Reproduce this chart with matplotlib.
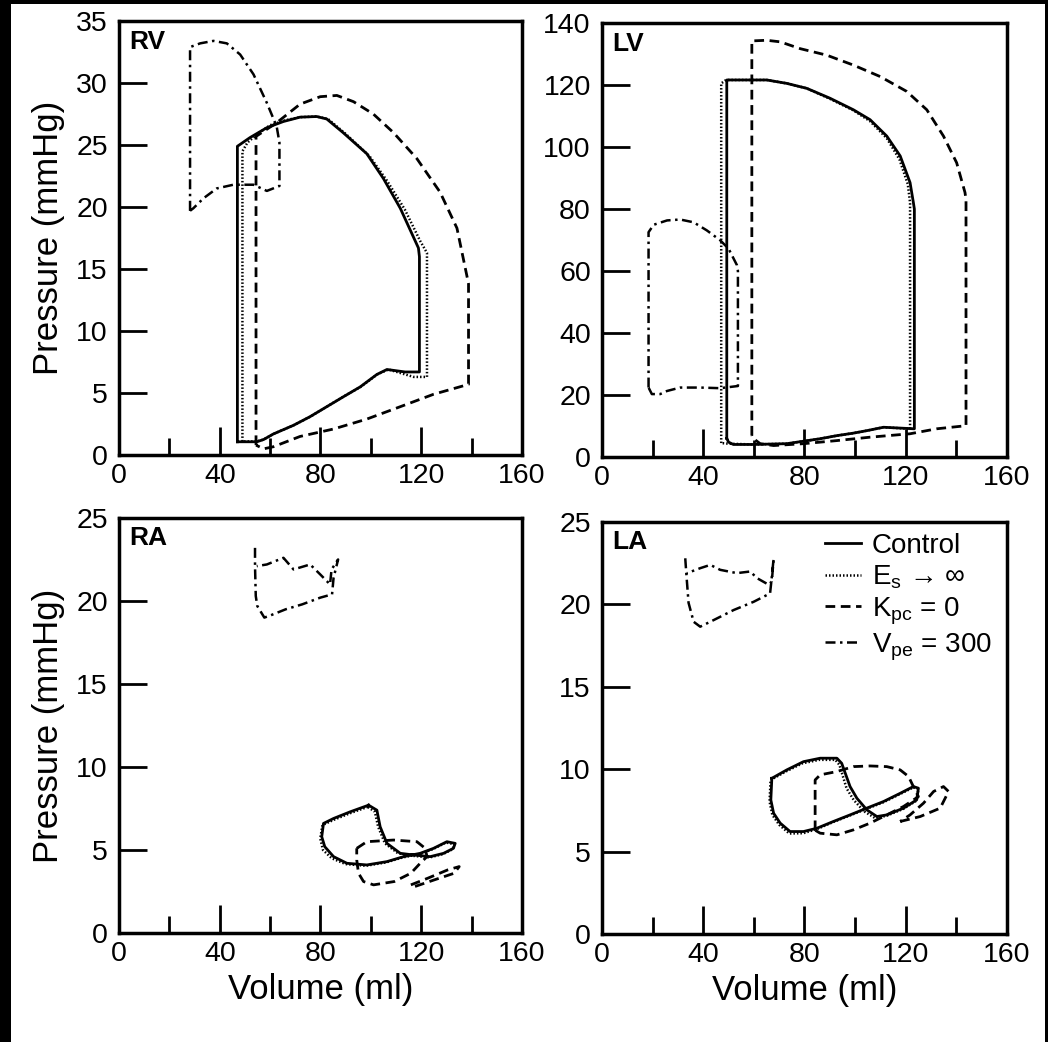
import numpy as np
import matplotlib.pyplot as plt
from matplotlib.lines import Line2D
from matplotlib.patches import Rectangle

plt.rcParams['font.family'] = ['Liberation Sans', 'DejaVu Sans']
plt.rcParams['mathtext.fontset'] = 'custom'
plt.rcParams['mathtext.rm'] = 'Liberation Sans'

# ---- RV (volume ml, pressure mmHg) ----
rv_ctrl_v = [47, 47, 52, 58.7, 65.3, 71.9, 78.5, 82.5, 89, 98.4, 105, 111.7, 118.9, 119.3, 119.3,
             113.6, 106.4, 102.4, 95.8, 89.1, 82.5, 75.9, 69.3, 61.3, 57.4, 54.7, 47]
rv_ctrl_p = [1.07, 24.9, 25.6, 26.4, 26.9, 27.25, 27.3, 27.1, 26.0, 24.3, 22.3, 19.9, 16.7, 16.0, 6.7,
             6.7, 6.9, 6.5, 5.5, 4.7, 3.9, 3.1, 2.4, 1.7, 1.25, 1.07, 1.07]
rv_es_v = [49, 49, 51, 55, 60, 66, 72, 78.5, 83, 90, 99.5, 106.5, 113.5, 119.5, 122.3, 122.3,
           117, 112, 107, 102.5, 96, 89, 82.5, 76, 69.3, 61.3, 57.4, 54.7, 49]
rv_es_p = [1.1, 24.5, 25.2, 25.9, 26.6, 27.0, 27.25, 27.3, 27.1, 25.9, 24.1, 22.1, 19.8, 17.3, 16.3, 6.3,
           6.3, 6.6, 6.9, 6.5, 5.5, 4.7, 3.9, 3.1, 2.4, 1.7, 1.25, 1.1, 1.1]
rv_kpc_v = [54.4, 54.4, 57.4, 62.6, 71.9, 79.9, 86.5, 93.1, 101, 109, 118.3, 127.5, 134.2, 138.1, 138.8, 138.8,
            124.9, 111.7, 98.4, 85.2, 71.9, 61.3, 57.4, 54.4]
rv_kpc_p = [0.8, 25.7, 26.1, 26.8, 28.3, 28.9, 29.0, 28.5, 27.5, 26.0, 23.9, 21.2, 18.3, 14.5, 13.8, 5.7,
            4.9, 3.9, 2.9, 2.1, 1.5, 0.67, 0.5, 0.8]
rv_vpe_v = [28.2, 28.2, 32.2, 37.5, 42.8, 48.1, 53.4, 58.7, 62.6, 63.7, 63.7,
            58.7, 53.4, 45.4, 38.8, 33.5, 29.5, 28.2]
rv_vpe_p = [19.7, 32.9, 33.2, 33.4, 33.2, 32.3, 30.7, 28.4, 26.5, 25.2, 21.7,
            21.3, 21.8, 21.8, 21.5, 20.7, 19.9, 19.7]

# ---- LV ----
lv_ctrl_v = [49.3, 49.3, 65.1, 73, 80.9, 90.1, 99.3, 105.9, 112.5, 117.8, 121.7, 123, 123.4, 123.4,
             111.2, 104.6, 99.3, 92.8, 86.2, 79.6, 73, 59.9, 51.9, 50, 49.3]
lv_ctrl_p = [6.0, 121.6, 121.6, 120.5, 118.9, 115.7, 112, 108.8, 103.5, 97.1, 88.5, 82.1, 80, 9.1,
             9.6, 8.5, 7.7, 6.9, 5.9, 5.1, 4.3, 4.05, 4.05, 4.8, 6.0]
lv_es_v = [47.1, 47.1, 49, 65.1, 73, 80.9, 90.1, 99.3, 105.9, 112.5, 117.5, 120.8, 121.7, 121.7,
           111.2, 104.6, 99.3, 92.8, 86.2, 79.6, 73, 59.9, 50, 47.1]
lv_es_p = [4.5, 120.5, 121.6, 121.6, 120.5, 118.9, 115.5, 111.8, 108.3, 102.8, 96.0, 88.0, 82.0, 9.1,
           9.6, 8.5, 7.7, 6.9, 5.9, 5.1, 4.3, 4.05, 4.3, 4.5]
lv_kpc_v = [59.2, 59.2, 65.1, 70.4, 78.3, 88.8, 99.3, 109.9, 120.4, 128.3, 134.9, 140.1, 143.4, 143.8, 143.8,
            132.2, 121.7, 105.9, 92.8, 79.6, 67.8, 62.5, 59.9, 59.2]
lv_kpc_p = [6.9, 134.2, 134.4, 133.9, 131.7, 129.6, 126.4, 122.7, 117.9, 112, 103.5, 94.9, 85.3, 83, 10.1,
            9.1, 7.5, 6.4, 5.3, 4.3, 3.7, 4.3, 5.9, 6.9]
lv_vpe_v = [18.4, 18.4, 20.4, 25.7, 30.9, 36.2, 41.4, 46.7, 50, 53.3, 53.7, 53.7,
            46.7, 38.8, 30.9, 25.7, 23, 19.7, 18.4]
lv_vpe_p = [22.4, 72.5, 74.9, 76.3, 76.6, 75.7, 73.1, 69.9, 67.2, 61.9, 60, 22.9,
            22.2, 22.4, 22.4, 21.3, 20.3, 20.3, 22.4]

# ---- RA ----
ra_ctrl_v = [99.1, 91.8, 85.2, 81.2, 80.5, 81.7, 85.2, 90.5, 98.4, 106.4, 113, 119.6, 124.9, 130.2, 133.5,
             132.8, 128.9, 123.6, 117, 111.7, 106.4, 103.7, 102.4, 99.1]
ra_ctrl_p = [7.7, 7.3, 6.9, 6.6, 5.8, 5.2, 4.6, 4.2, 4.1, 4.3, 4.6, 4.8, 5.1, 5.5, 5.4,
             5.1, 4.8, 4.6, 4.7, 4.8, 5.4, 6.4, 7.4, 7.7]
ra_es_v = [98.8, 91.5, 85.0, 80.8, 79.9, 81.0, 84.5, 90.0, 98.0, 106.0, 112.6, 119.3, 124.6, 129.8, 133.2,
           132.5, 128.6, 123.3, 116.7, 110.8, 105.6, 102.9, 101.6, 98.8]
ra_es_p = [7.6, 7.2, 6.8, 6.5, 5.7, 5.0, 4.5, 4.15, 4.05, 4.25, 4.55, 4.75, 5.05, 5.45, 5.35,
           5.05, 4.75, 4.55, 4.65, 4.8, 5.4, 6.4, 7.3, 7.6]
ra_kpc_v = [94.4, 98.4, 109, 118.3, 121.6, 122.3, 119.6, 115.9, 109.3, 101.1, 97.1, 95.1, 94.4, 94.4,
            None, 115.9, 122.6, 130.5, 135.1, 133.1, 125.2, 117.5]
ra_kpc_p = [5.1, 5.5, 5.6, 5.5, 5.1, 4.6, 4.2, 3.6, 3.1, 2.9, 3.1, 3.6, 4.4, 5.1,
            None, 2.9, 3.3, 3.8, 4.0, 3.6, 3.2, 2.8]
ra_vpe_v = [54.0, 54.0, 54.3, 54.9, 57.7, 59.6, 66.2, 72.8, 79.9, 84.6, 85.2, 87.0, 84.4, 83.8,
            79.9, 75.9, 69.3, 65.3, 58.7, 54.7]
ra_vpe_p = [23.2, 22.1, 20.3, 19.7, 19.0, 19.1, 19.5, 19.8, 20.2, 20.4, 21.4, 22.5, 21.9, 21.0,
            21.6, 22.2, 21.9, 22.6, 22.2, 22.1]

# ---- LA ----
la_ctrl_v = [67.1, 73, 79.6, 86.2, 92.8, 94.7, 96.1, 98, 100.7, 104.6, 108.6, 112.5, 119.1, 124.3, 125,
             123, 117.8, 111.2, 104.6, 98, 91.4, 84.9, 79.6, 74.3, 70.4, 67.8, 66.7, 67.1]
la_ctrl_p = [9.45, 9.96, 10.46, 10.67, 10.67, 10.36, 9.76, 8.95, 8.24, 7.54, 7.13, 7.23, 7.64, 8.14, 8.85,
             8.95, 8.54, 8.04, 7.64, 7.23, 6.83, 6.42, 6.22, 6.22, 6.73, 7.33, 8.14, 9.45]
la_es_v = [66.6, 72.6, 79.2, 85.8, 92.2, 93.8, 95.0, 96.6, 99.4, 103.6, 108.0, 112.5, 119.1, 124.3, 125,
           123, 117.8, 111.2, 104.6, 98, 91.4, 84.9, 79.6, 74.0, 70.0, 67.3, 66.2, 66.6]
la_es_p = [9.35, 9.86, 10.36, 10.57, 10.57, 10.26, 9.66, 8.85, 8.14, 7.44, 7.03, 7.18, 7.6, 8.1, 8.8,
           8.9, 8.5, 8.0, 7.6, 7.2, 6.8, 6.37, 6.12, 6.1, 6.63, 7.23, 8.04, 9.35]
la_kpc_v = [84.2, 84.2, 86.2, 92.8, 99.3, 105.9, 112.5, 117.8, 121.1, 123, 125, 119.1, 112.5, 105.9,
            99.3, 92.8, 86.2, 84.2, None, 117.8, 125.7, 133.6, 136.9, 134.9, 131, 127, 121.7, 117.8]
la_kpc_p = [6.3, 9.35, 9.66, 9.86, 10.16, 10.2, 10.16, 9.96, 9.56, 8.95, 8.34, 7.74, 7.23, 6.73,
            6.32, 6.02, 6.12, 6.3, None, 6.83, 7.13, 7.64, 8.65, 8.95, 8.65, 7.94, 7.23, 6.83]
la_vpe_v = [32.9, 33.3, 34.2, 36.2, 38.8, 44.1, 52, 59.9, 66.4, 67.1, 67.8, 67.1, 65.8, 61.2,
            58.6, 53.3, 46.7, 42.8, 38.8, 33.6]
la_vpe_p = [22.8, 21.9, 20.1, 18.95, 18.65, 19.05, 19.66, 20.16, 20.67, 21.68, 22.79, 21.4, 21.2, 21.6,
            22.0, 21.9, 22.1, 22.4, 22.2, 21.9]

labels = ['Control', r'E$_\mathregular{s}$ → ∞', r'K$_\mathregular{pc}$ = 0', r'V$_\mathregular{pe}$ = 300']
styles = [dict(ls='-', lw=2.0),
          dict(ls=(0, (0.6, 0.8)), lw=1.8),
          dict(ls=(0, (3.5, 2.0)), lw=2.0),
          dict(ls=(0, (4.0, 1.8, 1.0, 1.8)), lw=1.8)]

panels = [
    ('RV', [0.1136, 0.5633, 0.3844, 0.4165], 35, 5,
     [(rv_ctrl_v, rv_ctrl_p), (rv_es_v, rv_es_p), (rv_kpc_v, rv_kpc_p), (rv_vpe_v, rv_vpe_p)]),
    ('LV', [0.5744, 0.5614, 0.3865, 0.4166], 140, 20,
     [(lv_ctrl_v, lv_ctrl_p), (lv_es_v, lv_es_p), (lv_kpc_v, lv_kpc_p), (lv_vpe_v, lv_vpe_p)]),
    ('RA', [0.1136, 0.1046, 0.3844, 0.3983], 25, 5,
     [(ra_ctrl_v, ra_ctrl_p), (ra_es_v, ra_es_p), (ra_kpc_v, ra_kpc_p), (ra_vpe_v, ra_vpe_p)]),
    ('LA', [0.5744, 0.1036, 0.3865, 0.3954], 25, 5,
     [(la_ctrl_v, la_ctrl_p), (la_es_v, la_es_p), (la_kpc_v, la_kpc_p), (la_vpe_v, la_vpe_p)]),
]

fig = plt.figure(figsize=(10.48, 10.42), dpi=100, facecolor='black')
fig.patches.append(Rectangle((11 / 1048, 0), (1045 - 11) / 1048, 1 - 4 / 1042,
                             transform=fig.transFigure, facecolor='white', edgecolor='none', zorder=-10))

for i, (name, pos, ymax, ystep, series) in enumerate(panels):
    ax = fig.add_axes(pos)
    ax.set_facecolor('white')
    for (v, p), st in zip(series, styles):
        v = np.array(v, dtype=float)
        p = np.array(p, dtype=float)
        ax.plot(v, p, color='black', dash_capstyle='butt', **st)
    ax.set_xlim(0, 160)
    ax.set_ylim(0, ymax)
    ax.set_xticks([0, 40, 80, 120, 160])
    ax.set_xticks([20, 60, 100, 140], minor=True)
    ax.set_yticks(np.arange(0, ymax + 1, ystep))
    ax.tick_params(axis='both', which='major', direction='in', length=20, width=2,
                   labelsize=20.5, pad=6, top=False, right=False)
    ax.tick_params(axis='x', which='minor', direction='in', length=12, width=2)
    ax.tick_params(axis='y', which='major', pad=8)
    for sp in ax.spines.values():
        sp.set_linewidth(2.5)
    ax.text(0.025, 0.98, name, transform=ax.transAxes, fontsize=19, fontweight='bold',
            va='top', ha='left')
    if i % 2 == 0:
        ax.set_ylabel('Pressure (mmHg)', fontsize=25, labelpad=8)
    if i >= 2:
        ax.set_xlabel('Volume (ml)', fontsize=25, labelpad=4)
    if name == 'LA':
        handles = [Line2D([], [], color='black', **st) for st in styles]
        ax.legend(handles, labels, loc='upper right', frameon=False, fontsize=20,
                  handlelength=1.3, handletextpad=0.4, labelspacing=0.15,
                  borderaxespad=0.0, bbox_to_anchor=(0.99, 1.0))

fig.savefig('out.png', dpi=100, facecolor=fig.get_facecolor())
